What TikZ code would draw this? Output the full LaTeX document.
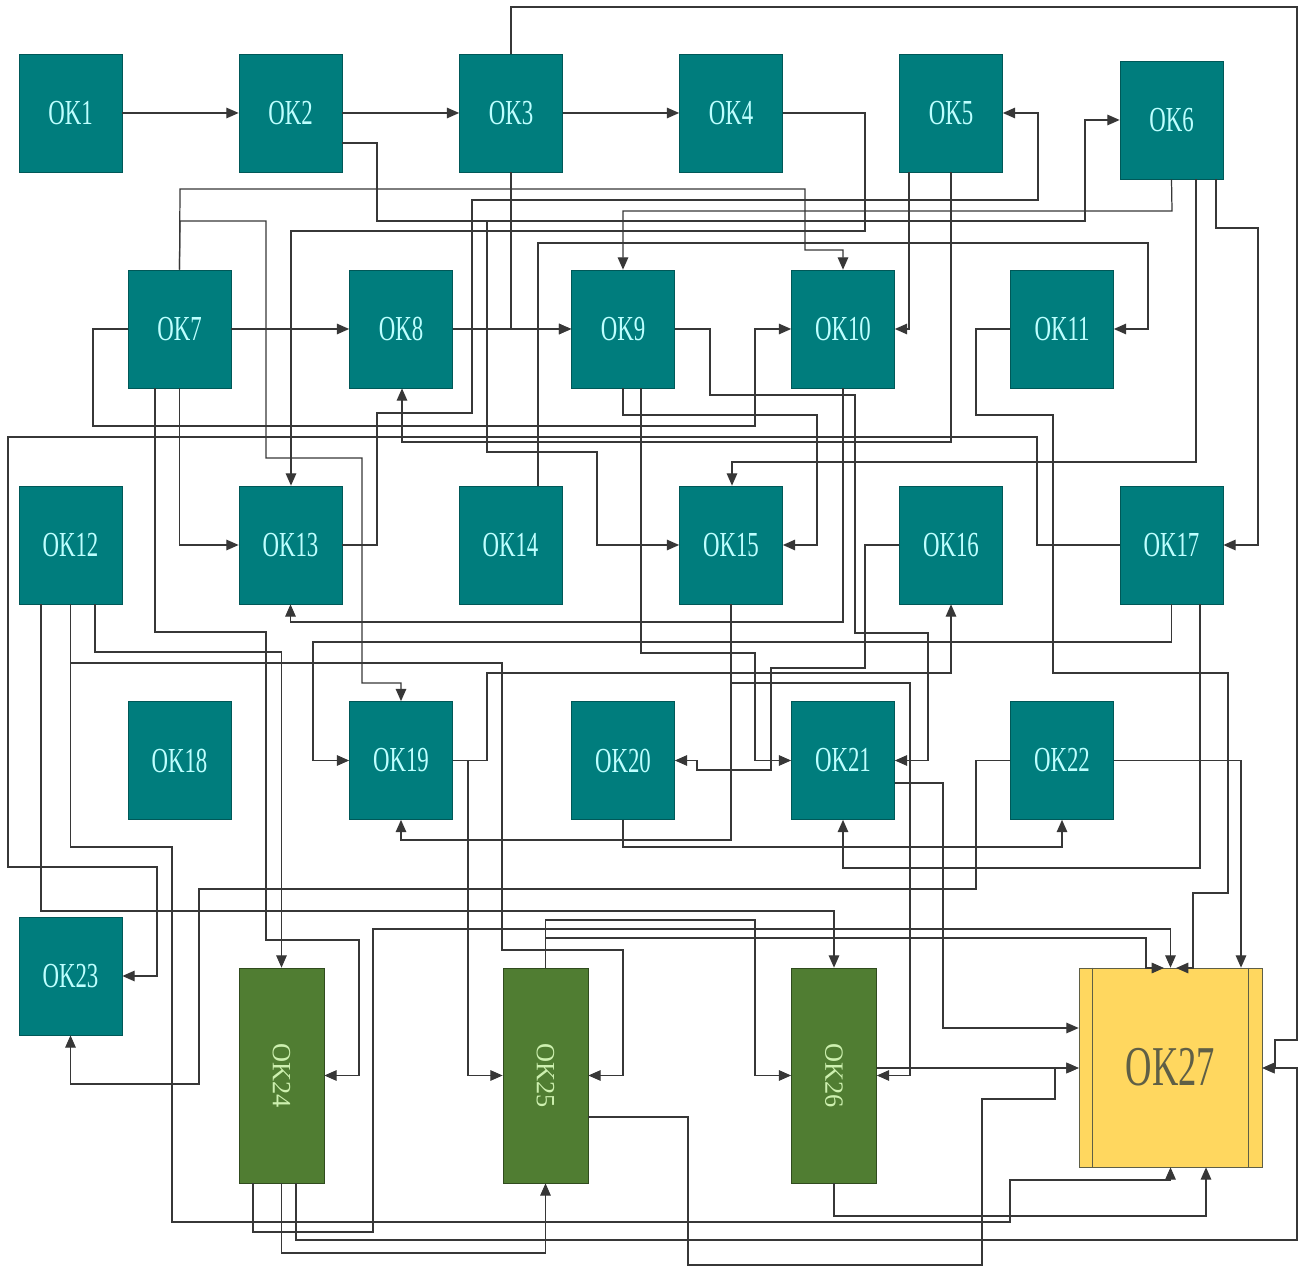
\documentclass[tikz,border=0pt]{standalone}
\usepackage{fontspec}
\setmainfont{Liberation Serif}
\usetikzlibrary{arrows.meta}
\definecolor{okteal}{RGB}{0,125,125}
\definecolor{oktext}{RGB}{190,255,255}
\definecolor{okgreen}{RGB}{80,125,50}
\definecolor{okgtext}{RGB}{205,240,175}
\definecolor{okyellow}{RGB}{255,215,95}
\definecolor{okytext}{RGB}{95,95,70}
\definecolor{wirecol}{RGB}{55,55,55}
\newcommand\oktext[1]{\scalebox{0.65}[1]{#1}}
\tikzset{
  okbox/.style={draw=okteal!70!black, fill=okteal, text=oktext, minimum width=2.06cm,
    minimum height=2.36cm, inner sep=0pt, font=\fontsize{20}{24}\selectfont},
  okbar/.style={draw=okgreen!60!black, fill=okgreen, text=okgtext, minimum width=1.7cm,
    minimum height=4.3cm, inner sep=0pt, font=\fontsize{15}{18}\selectfont},
  okmain/.style={draw=okytext, fill=okyellow, text=okytext, minimum width=3.66cm,
    minimum height=3.98cm, inner sep=0pt, font=\fontsize{32}{36}\selectfont},
  wire/.style={draw=wirecol, line width=0.7pt},
  arr/.style={-{Triangle[length=7pt,width=6pt]}}
}
\begin{document}
\begin{tikzpicture}[x=0.02cm, y=-0.02cm]
\useasboundingbox (0,0) rectangle (1302,1266);
% boxes
\foreach \n/\x/\y in {1/70.5/113, 2/290.5/113, 3/511/113, 4/731/113, 5/951/113, 6/1171.5/120,
    7/179.5/329, 8/401/329, 9/623/329, 10/843/329, 11/1062/329,
    12/70.5/545, 13/290.5/545, 14/510.5/545, 15/731/545, 16/951/545, 17/1171.5/545,
    18/179.5/760.5, 19/401/760.5, 20/623/760.5, 21/843/760.5, 22/1062/760.5, 23/70.5/976}
  \node[okbox] (ok\n) at (\x,\y) {\oktext{OK\n}};
\node[okbar] (ok24) at (281.5,1075.5) {\rotatebox{-90}{OK24}};
\node[okbar] (ok25) at (545.5,1075.5) {\rotatebox{-90}{OK25}};
\node[okbar] (ok26) at (834,1075.5) {\rotatebox{-90}{OK26}};
\node[okmain] (ok27) at (1170.5,1067.5) {\oktext{OK27}};
\draw[okytext] ([xshift=0.28cm]ok27.north west) -- ([xshift=0.28cm]ok27.south west)
  ([xshift=-0.28cm]ok27.north east) -- ([xshift=-0.28cm]ok27.south east);

% top row
\draw[wire,arr] (ok1.east) -- (ok2.west);
\draw[wire,arr] (ok2.east) -- (ok3.west);
\draw[wire,arr] (ok3.east) -- (ok4.west);
\draw[wire,arr] (ok3.north) -- (511,7) -- (1297,7) -- (1297,1040) -- (1275,1040) -- (1275,1068) -- (ok27.east |- 0,1068);
\draw[wire,arr] (ok2.east |- 0,143) -- (377,143) -- (377,221) -- (1085,221) -- (1085,120) -- (ok6.west);
\draw[wire,arr] (ok2.east |- 0,143) -- (377,143) -- (377,221) -- (487,221) -- (487,452) -- (597,452) -- (597,545) -- (ok15.west);
\draw[wire,arr] (ok4.east) -- (865,113) -- (865,231) -- (291,231) -- (ok13.north -| 291,0);
\draw[wire,arr] (ok6.south) -- (1172,211) -- (623,211) -- (ok9.north);
\draw[wire,arr] (ok13.east) -- (377,545) -- (377,413) -- (472,413) -- (472,200) -- (1038,200) -- (1038,113) -- (ok5.east);
\draw[wire,arr] (ok5.south -| 909,0) -- (909,329) -- (ok10.east);
\draw[wire,arr] (ok5.south) -- (951,442) -- (402,442) -- (ok8.south -| 402,0);
\draw[wire,arr] (ok6.south -| 1196,0) -- (1196,462) -- (732,462) -- (ok15.north -| 732,0);
\draw[wire,arr] (ok6.south -| 1216,0) -- (1216,228) -- (1258,228) -- (1258,545) -- (ok17.east);

% second row
\draw[wire,arr] (ok7.north) -- (180,189) -- (805,189) -- (805,250) -- (843,250) -- (ok10.north);
\draw[wire,arr] (ok7.north) -- (180,221) -- (266,221) -- (266,458) -- (362,458) -- (362,683) -- (401,683) -- (ok19.north);
\draw[wire,arr] (ok7.east) -- (ok8.west);
\draw[wire,arr] (ok8.east) -- (ok9.west);
\draw[wire,arr] (ok3.south) -- (511,329) -- (ok9.west);
\draw[wire,arr] (ok7.west) -- (93,329) -- (93,426) -- (755,426) -- (755,329) -- (ok10.west);
\draw[wire,arr] (ok7.south) -- (179.5,545) -- (ok13.west);
\draw[wire,arr] (ok7.south -| 155,0) -- (155,632) -- (266,632) -- (266,940) -- (359,940) -- (359,1075.5) -- (ok24.east);
\draw[wire,arr] (ok9.south) -- (623,415) -- (817,415) -- (817,545) -- (ok15.east);
\draw[wire,arr] (ok9.south -| 641,0) -- (641,653) -- (755,653) -- (755,760.5) -- (ok21.west);
\draw[wire,arr] (ok9.east) -- (710,329) -- (710,395) -- (855,395) -- (855,633) -- (928,633) -- (928,760.5) -- (ok21.east);
\draw[wire,arr] (ok10.south) -- (843,622) -- (290.5,622) -- (ok13.south);
\draw[wire,arr] (ok11.west) -- (976,329) -- (976,415) -- (1053,415) -- (1053,673) -- (1228,673) -- (1228,893) -- (1193,893) -- (1193,968) -- (1176,968);
\draw[wire,arr] (ok14.north -| 538,0) -- (538,243) -- (1148,243) -- (1148,329) -- (ok11.east);

% third row
\draw[wire,arr] (ok17.west) -- (1037,545) -- (1037,437) -- (8,437) -- (8,867) -- (157,867) -- (157,976) -- (ok23.east);
\draw[wire,arr] (ok17.south) -- (1171.5,642) -- (313,642) -- (313,760.5) -- (ok19.west);
\draw[wire,arr] (ok17.south -| 1200,0) -- (1200,868) -- (843,868) -- (ok21.south);
\draw[wire,arr] (ok12.south -| 41,0) -- (41,911) -- (834,911) -- (ok26.north);
\draw[wire,arr] (ok12.south) -- (70.5,847) -- (172,847) -- (172,1222) -- (1010,1222) -- (1010,1180) -- (1170.5,1180) -- (ok27.south);
\draw[wire,arr] (ok12.south -| 95,0) -- (95,652) -- (281.5,652) -- (ok24.north);
\draw[wire,arr] (ok12.south) -- (70.5,663) -- (502,663) -- (502,950) -- (623,950) -- (623,1075.5) -- (ok25.east);
\draw[wire,arr] (ok16.west) -- (865,545) -- (865,668) -- (771,668) -- (771,770) -- (697,770) -- (697,760.5) -- (ok20.east);
\draw[wire,arr] (ok15.south) -- (731,840) -- (401,840) -- (ok19.south);
\draw[wire,arr] (ok15.south) -- (731,683) -- (910,683) -- (910,1075.5) -- (ok26.east);

% fourth row
\draw[wire,arr] (ok19.east) -- (487,760.5) -- (487,673) -- (951,673) -- (ok16.south);
\draw[wire,arr] (ok19.east) -- (468,760.5) -- (468,1075.5) -- (ok25.west);
\draw[wire,arr] (ok20.south) -- (623,847) -- (1062,847) -- (ok22.south);
\draw[wire,arr] (ok21.east |- 0,783) -- (943,783) -- (943,1028) -- (ok27.west |- 0,1028);
\draw[wire,arr] (ok22.west) -- (976,760.5) -- (976,889) -- (199,889) -- (199,1084) -- (70.5,1084) -- (ok23.south);
\draw[wire,arr] (ok22.east) -- (1241,760.5) -- (ok27.north -| 1241,0);

% bottom row
\draw[wire,arr] (ok24.south -| 253,0) -- (253,1232) -- (373,1232) -- (373,929) -- (1170.5,929) -- (ok27.north);
\draw[wire,arr] (ok24.south) -- (281.5,1253) -- (545.5,1253) -- (ok25.south);
\draw[wire,arr] (ok24.south -| 296,0) -- (296,1240) -- (1297,1240) -- (1297,1068) -- (ok27.east |- 0,1068);
\draw[wire,arr] (ok25.north) -- (545.5,920) -- (755,920) -- (755,1075.5) -- (ok26.west);
\draw[wire,arr] (ok25.north) -- (545.5,938) -- (1146,938) -- (1146,968) -- (1164,968);
\draw[wire,arr] (ok25.east |- 0,1117) -- (688,1117) -- (688,1265) -- (982,1265) -- (982,1099) -- (1055,1099) -- (1055,1068) -- (ok27.west |- 0,1068);
\draw[wire,arr] (ok26.east |- 0,1068) -- (ok27.west |- 0,1068);
\draw[wire,arr] (ok26.south) -- (834,1216) -- (1206,1216) -- (ok27.south -| 1206,0);
\end{tikzpicture}
\end{document}
